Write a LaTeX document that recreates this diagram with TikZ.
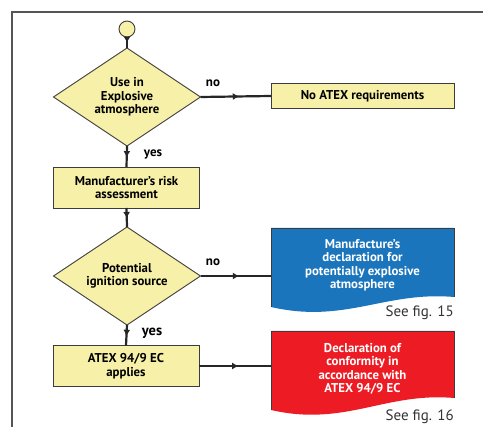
\documentclass[tikz,border=0pt]{standalone}
\usepackage{fontspec}
\setmainfont{PT Sans}
\usetikzlibrary{shapes.geometric,arrows.meta,decorations.markings}
\definecolor{boxyellow}{HTML}{F7F0A8}
\definecolor{boxedge}{HTML}{3C3C3C}
\definecolor{docblue}{HTML}{1B75BC}
\definecolor{docred}{HTML}{ED1C24}
\definecolor{framegray}{HTML}{555555}
\tikzset{
  ybox/.style={draw=boxedge, line width=0.9pt, fill=boxyellow, minimum width=146pt, minimum height=41pt, inner sep=0pt, outer sep=0pt, align=center, font=\bfseries\fontsize{12.8}{13.5}\selectfont},
  ydiam/.style={diamond, draw=boxedge, line width=0.9pt, fill=boxyellow, minimum width=147pt, minimum height=98pt, aspect=1.5, inner sep=0pt, outer sep=0pt, align=center, font=\bfseries\fontsize{12.8}{13.5}\selectfont},
  doctext/.style={text=white, align=center, inner sep=0pt, font=\bfseries\fontsize{12.8}{13.5}\selectfont},
  seefig/.style={anchor=east, inner sep=0pt, text=black!80, font=\fontsize{15}{17}\selectfont},
  lbl/.style={inner sep=0pt, font=\bfseries\fontsize{13}{14}\selectfont},
  flow/.style={line width=2.2pt, draw=black!85, postaction={decorate}, decoration={markings, mark=at position 0.55 with {\arrow{Latex[length=6.5pt,width=7pt]}}}},
  docedge/.style={draw=boxedge, line width=0.9pt},
}
\begin{document}
\begin{tikzpicture}[x=1pt,y=-1pt]
\useasboundingbox (0,0) rectangle (483,427);
% frame
\draw[framegray, line width=1.4pt] (483,12) -- (12,12) -- (12,427);
% start
\node[circle, draw=boxedge, line width=0.9pt, fill=boxyellow, minimum size=16pt, inner sep=0pt, outer sep=0pt] (start) at (127,29) {};
% decisions and boxes
\node[ydiam] (d1) at (127,97) {Use in\\Explosive\\atmosphere};
\node[ybox, minimum width=183pt, minimum height=25pt] (b1) at (362.5,96) {No ATEX requirements};
\node[ybox] (b2) at (126.5,187.5) {Manufacturer’s risk\\assessment};
\node[ydiam] (d2) at (127,276) {Potential\\ignition source};
\node[ybox] (b4) at (126,366) {ATEX 94/9 EC\\applies};
% documents
\coordinate (bluetl) at (271,228);
\coordinate (bluetr) at (454,228);
\coordinate (bluebr) at (454,297);
\coordinate (bluebl) at (271,307);
\fill[docblue] (bluetl) -- (bluetr) -- (bluebr) .. controls (385,291) and (345,324) .. (bluebl) -- cycle;
\draw[docedge] (bluebl) -- (bluetl) -- (bluetr) -- (bluebr);
\node[doctext] (blue) at (362.5,265) {Manufacture’s\\declaration for\\potentially explosive\\atmosphere};
\node[seefig] (fig15) at (454,313) {See fig. 15};
\coordinate (redtl) at (271,331);
\coordinate (redtr) at (454,331);
\coordinate (redbr) at (454,398);
\coordinate (redbl) at (271,410);
\fill[docred] (redtl) -- (redtr) -- (redbr) .. controls (385,392) and (345,427) .. (redbl) -- cycle;
\draw[docedge] (redbl) -- (redtl) -- (redtr) -- (redbr);
\node[doctext] (red) at (362.5,369) {Declaration of\\conformity in\\accordance with\\ATEX 94/9 EC};
\node[seefig] (fig16) at (454,417) {See fig. 16};
\coordinate (bluein) at (271,276);
\coordinate (redin) at (271,366);
% connectors
\draw[flow] (start.south) -- (d1.north);
\draw[flow] (d1.east) -- (b1.west);
\draw[flow] (d1.south) -- (b2.north);
\draw[flow] (b2.south) -- (d2.north);
\draw[flow] (d2.east) -- (bluein);
\draw[flow] (d2.south) -- (b4.north);
\draw[flow] (b4.east) -- (redin);
% labels
\node[lbl] (no1) at (213,83) {no};
\node[lbl] (yes1) at (153,154) {yes};
\node[lbl] (no2) at (213,262) {no};
\node[lbl, font=\bfseries\fontsize{14.5}{15}\selectfont] (yes2) at (152,333) {yes};
\end{tikzpicture}
\end{document}
